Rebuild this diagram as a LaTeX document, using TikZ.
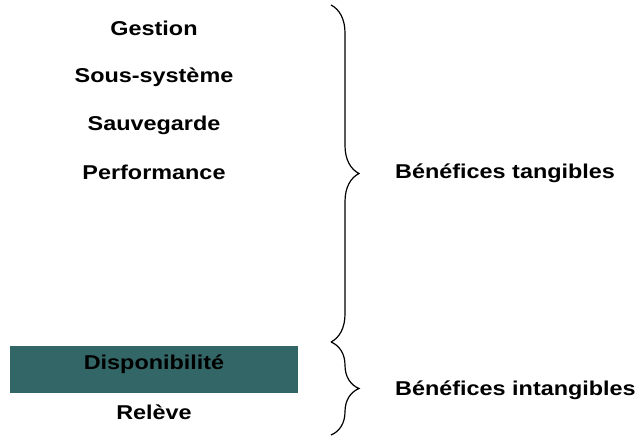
\documentclass[tikz,border=0pt]{standalone}
\usepackage{fontspec}
\setmainfont{Liberation Sans}[FakeStretch=1.17]
\usetikzlibrary{decorations.pathreplacing}
\definecolor{sarcelle}{RGB}{51,102,102}

\begin{document}
\begin{tikzpicture}[x=1pt, y=-1pt,
    lbl/.style={font=\fontsize{20}{24}\selectfont\bfseries, inner sep=0pt},
    accolade/.style={draw=black, line width=1.2pt, decorate,
        decoration={brace, amplitude=28pt}}]

\useasboundingbox (0,0) rectangle (642,437);

% elements a gauche
\node[lbl] (gestion) at (154,28) {Gestion};
\node[lbl] (soussys) at (154,77) {Sous-système};
\node[lbl] (sauveg) at (154,125) {Sauvegarde};
\node[lbl] (perf) at (154,172) {Performance};

\node[fill=sarcelle, minimum width=288pt, minimum height=47pt, inner sep=0pt] (boite) at (154,369.5) {};
\node[lbl] (dispo) at (154,364) {Disponibilité};
\node[lbl] (releve) at (154,412) {Relève};

% accolades
\coordinate (haut) at (331,5);
\coordinate (milieu) at (331,342);
\coordinate (bas) at (331,435);
\draw[accolade] (haut) -- (milieu);
\draw[accolade] (milieu) -- (bas);

\node[lbl, anchor=west] (tangibles) at (395,173) {Bénéfices tangibles};
\node[lbl, anchor=west] (intangibles) at (395,390) {Bénéfices intangibles};

\end{tikzpicture}
\end{document}
